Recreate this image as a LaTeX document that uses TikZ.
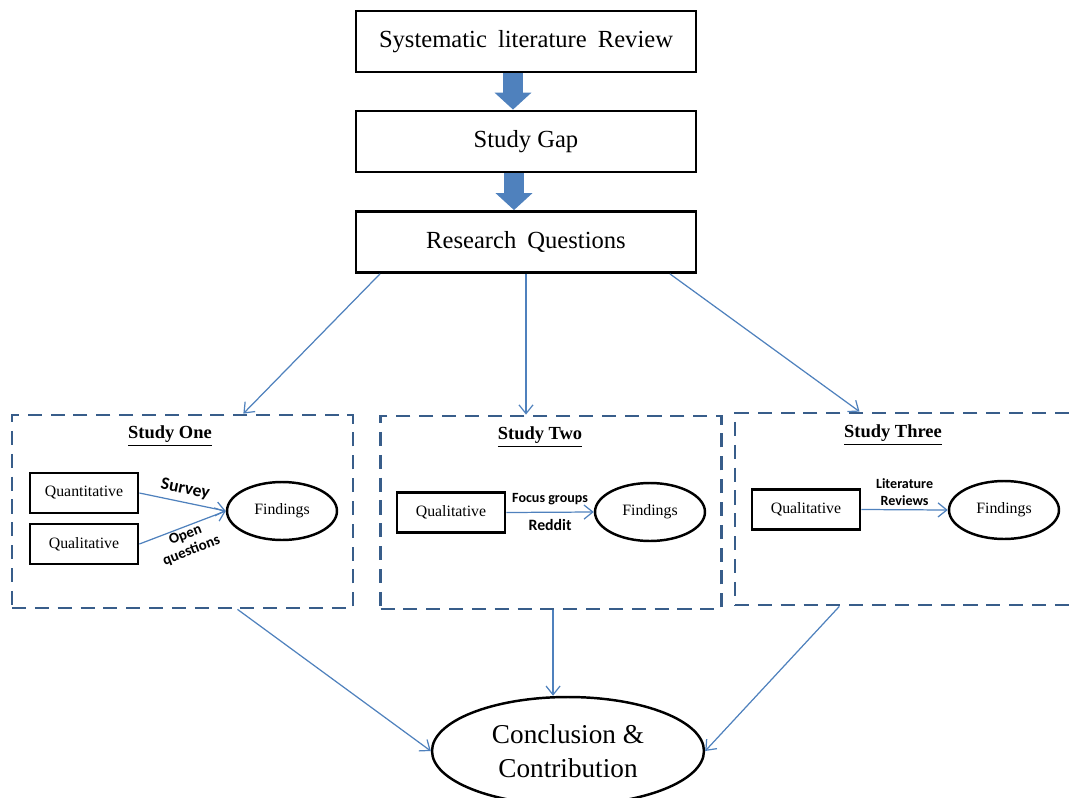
\documentclass[tikz,border=0pt]{standalone}
\usepackage{fontspec}
\setmainfont{Liberation Serif}
\newfontfamily\calibri{Carlito}
\usetikzlibrary{arrows.meta,calc,shapes.geometric}
\definecolor{officeblue}{RGB}{79,129,189}
\definecolor{officedark}{RGB}{56,93,138}

\begin{document}
\begin{tikzpicture}[x=0.02cm,y=-0.02cm,
  bigbox/.style={draw,line width=1.6pt,minimum width=6.8cm,minimum height=1.22cm,
                 inner sep=0pt,font=\fontsize{14}{17}\selectfont},
  smallbox/.style={draw,line width=1.6pt,minimum width=2.16cm,minimum height=0.8cm,
                   inner sep=0pt,font=\fontsize{9}{11}\selectfont},
  result/.style={draw,ellipse,line width=1.4pt,minimum width=2.2cm,minimum height=1.16cm,
                 inner sep=0pt,font=\fontsize{9}{11}\selectfont},
  studybox/.style={draw=officedark,line width=1.6pt,dash pattern=on 8pt off 5pt,
                   minimum width=6.82cm,minimum height=3.86cm,inner sep=0pt},
  studytitle/.style={font=\fontsize{10.5}{12}\selectfont\bfseries},
  method/.style={text=black,font=\calibri\bfseries\fontsize{8}{9.5}\selectfont,
                 align=center,inner sep=2pt},
  link/.style={officeblue,line width=0.7pt,-{Straight Barb[length=5pt,width=8pt]}},
  fatarrow/.style={officeblue,line width=0.4cm,-{Triangle[length=0.34cm,width=0.72cm]}}
]
\clip (0,0) rectangle (1069,798);

% top chain
\node[bigbox] (slr) at (526,41.5) {Systematic\hspace{0.45em}literature\hspace{0.45em}Review};
\node[bigbox] (gap) at (526,141.5) {Study Gap};
\node[bigbox] (rq)  at (526,242) {Research\hspace{0.45em}Questions};
\draw[fatarrow] ([xshift=-0.26cm]slr.south) -- ([xshift=-0.26cm]gap.north);
\draw[fatarrow] ([xshift=-0.24cm]gap.south) -- ([xshift=-0.24cm]rq.north);

% the three studies
\node[studybox] (s1) at (182.5,511.5) {};
\node[studybox] (s2) at (551,512.5) {};
\node[studybox,minimum width=6.9cm,minimum height=3.84cm] (s3) at (907.5,509) {};
\node[studytitle] (t1) at (170,436) {\underline{Study One}};
\node[studytitle] (t2) at (540,437) {\underline{Study Two}};
\node[studytitle] (t3) at (893,435) {\underline{Study Three}};

\node[smallbox] (qn1) at (84,493) {Quantitative};
\node[smallbox] (ql1) at (84,544) {Qualitative};
\node[result]   (f1)  at (282,511) {Findings};
\draw[link] (qn1.east) -- node[method,sloped,above,yshift=1pt,font=\calibri\bfseries\fontsize{10}{11}\selectfont] {Survey} (f1.west);
\draw[link] (ql1.east) -- node[method,sloped,below,inner sep=1pt,font=\calibri\bfseries\fontsize{8.5}{9.5}\selectfont] {Open\\questions} (f1.west);

\node[smallbox] (ql2) at (451,512.5) {Qualitative};
\node[result]   (f2)  at (650,512) {Findings};
\draw[link] (ql2.east) -- node[method,above,yshift=2pt] {Focus groups}
  node[method,below,yshift=-2pt,font=\calibri\bfseries\fontsize{9}{10}\selectfont] {Reddit} (f2.west);

\node[smallbox] (ql3) at (806,509.5) {Qualitative};
\node[result]   (f3)  at (1004,510) {Findings};
\draw[link] (ql3.east) -- node[method,above] {Literature\\Reviews} (f3.west);

% conclusion
\node[result,minimum width=5.44cm,minimum height=2.16cm,align=center,
      font=\fontsize{15.5}{19.5}\selectfont] (conc) at (568,751) {Conclusion \&\\Contribution};

% links between stages
\coordinate (s2out) at ($(s2.south west)!0.506!(s2.south east)$);
\draw[link] ($(rq.south west)!0.074!(rq.south east)$) -- ($(s1.north west)!0.677!(s1.north east)$);
\draw[link] (rq.south) -- (rq.south |- s2.north);
\draw[link] ($(rq.south west)!0.92!(rq.south east)$) -- ($(s3.north west)!0.362!(s3.north east)$);
\draw[link] ($(s1.south west)!0.66!(s1.south east)$) -- (conc.west);
\draw[link] (s2out) -- (s2out |- conc.north);
\draw[link] ($(s3.south west)!0.304!(s3.south east)$) -- (conc.east);
\end{tikzpicture}
\end{document}
